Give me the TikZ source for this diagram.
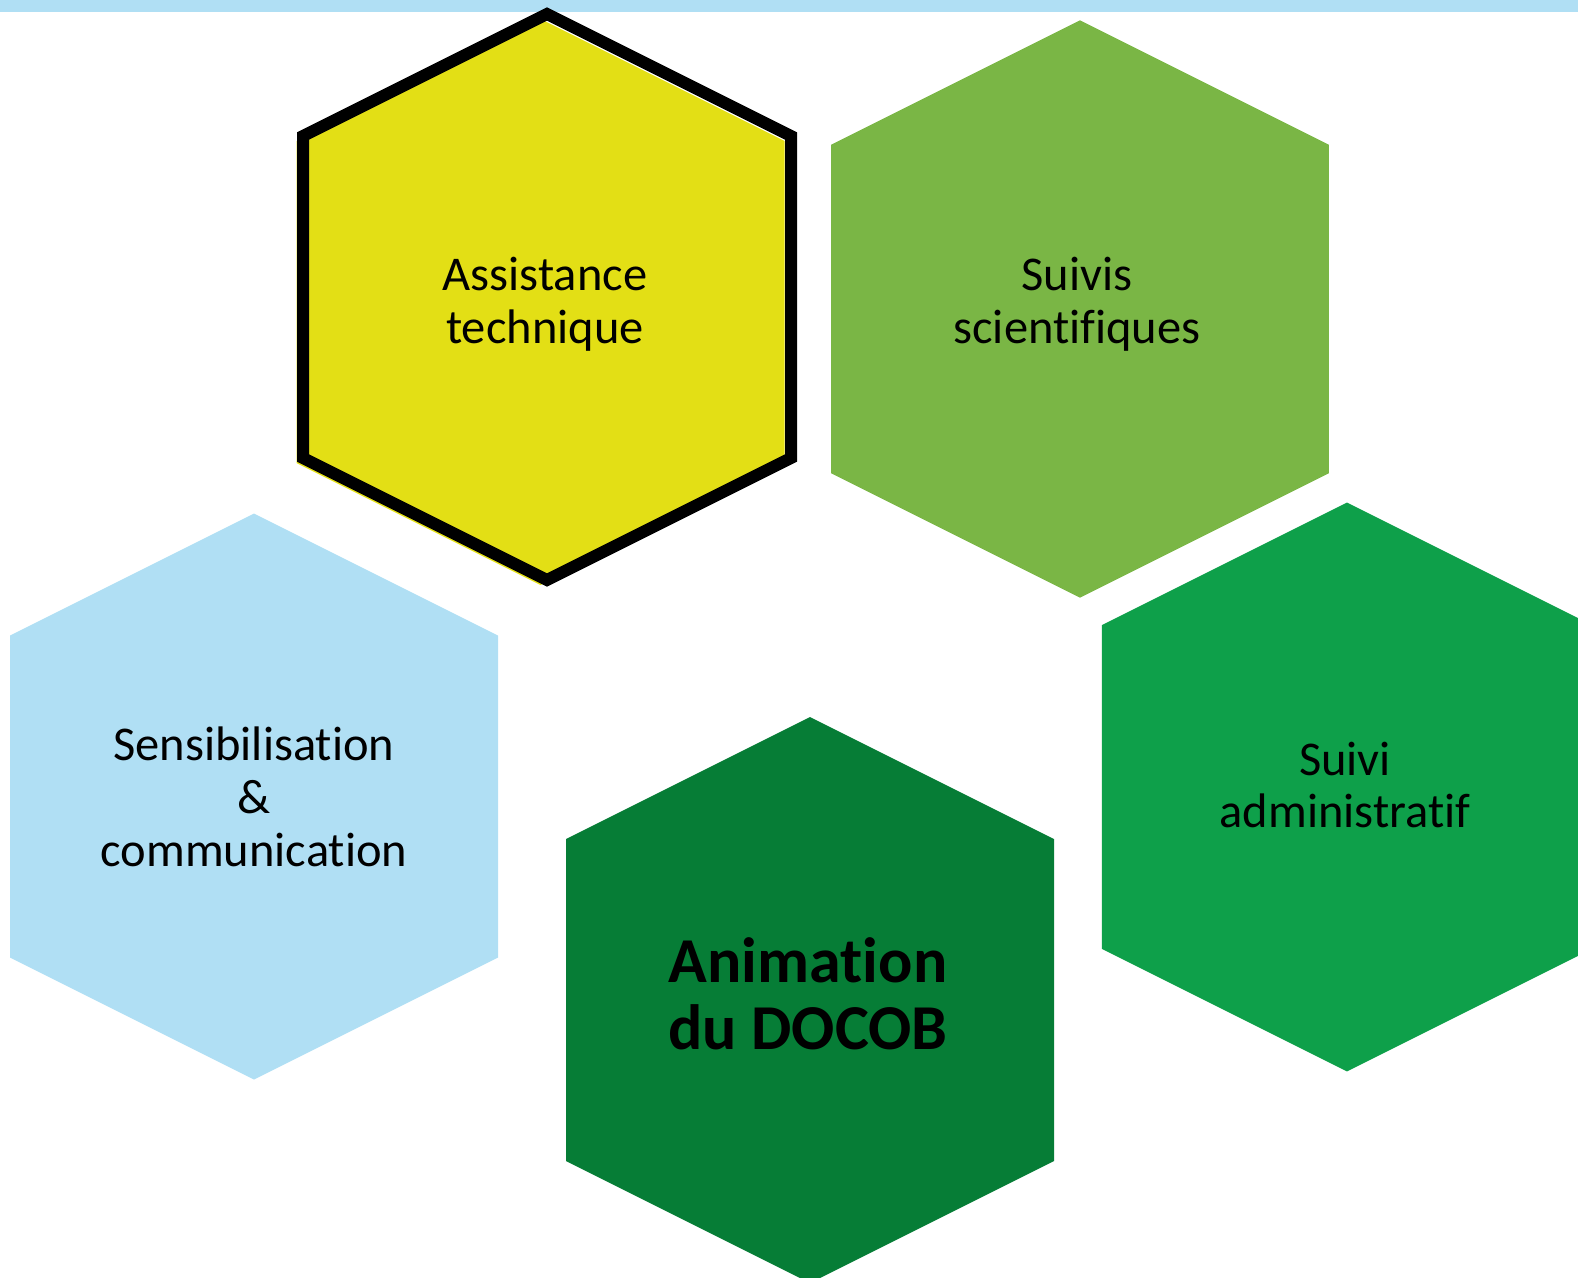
\documentclass[tikz,border=0pt]{standalone}
\usepackage{fontspec}
\setmainfont{Carlito}[Ligatures={NoCommon}]

\definecolor{barblue}{RGB}{176,223,244}
\definecolor{hexyellow}{RGB}{227,223,21}
\definecolor{lightgreen}{RGB}{122,182,69}
\definecolor{midgreen}{RGB}{14,160,74}
\definecolor{darkgreen}{RGB}{6,125,54}

\tikzset{
  hextext/.style={align=center, inner sep=0pt, font=\fontsize{34.5}{37.5}\selectfont},
  bigtext/.style={align=center, inner sep=0pt, font=\fontsize{45.5}{47.5}\selectfont\bfseries}
}
% hexagone pointe en haut, centre (#1,#2), echelle #3
\newcommand{\hexa}[3]{(#1,#2) +(0,-283*#3) -- +(244*#3,-161*#3) -- +(244*#3,161*#3)
  -- +(0,283*#3) -- +(-244*#3,161*#3) -- +(-244*#3,-161*#3) -- cycle}

\begin{document}
\begin{tikzpicture}[x=0.25mm, y=-0.25mm]
\useasboundingbox (0,0) rectangle (1578,1277);
\clip (0,0) rectangle (1578,1277);

% bandeau du haut
\fill[barblue] (0,0) rectangle (1578,12.4);

% hexagones
\fill[hexyellow] \hexa{540.5}{302}{1};
\draw[black, line width=3mm] \hexa{547}{297}{1};
\fill[lightgreen] \hexa{1080}{309}{1.02};
\fill[barblue] \hexa{254}{796.5}{1};
\fill[midgreen] \hexa{1347}{787}{1.005};
\fill[darkgreen] \hexa{810}{1000}{1};

% textes
\node[hextext] (assist) at (545,304) {Assistance\\technique};
\node[hextext] (suivis) at (1077,304) {Suivis\\scientifiques};
\node[hextext] (sensib) at (254,797) {Sensibilisation\\\&\\communication};
\node[hextext] (admin) at (1345,785) {Suivi\\administratif};
\node[bigtext] (anim) at (808,994) {Animation\\du DOCOB};
\end{tikzpicture}
\end{document}
